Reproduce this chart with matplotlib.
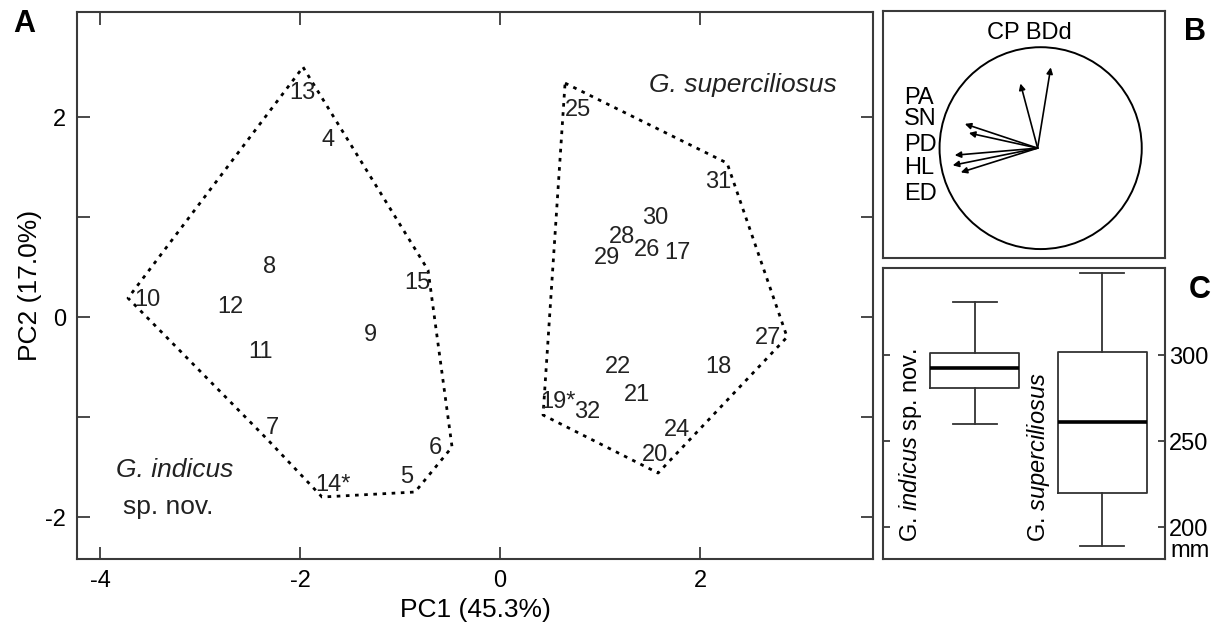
import matplotlib
matplotlib.use('Agg')
import matplotlib.pyplot as plt
from matplotlib.patches import Circle
import matplotlib.transforms as mtransforms

plt.rcParams['font.family'] = ['Liberation Sans', 'DejaVu Sans']
plt.rcParams['axes.unicode_minus'] = False
plt.rcParams['mathtext.fontset'] = 'custom'
plt.rcParams['mathtext.rm'] = 'Liberation Sans'
plt.rcParams['mathtext.it'] = 'Liberation Sans:italic'

# --- panel A: PCA scores (labels drawn at score positions)
ind_ids = ['13', '4', '8', '15', '10', '12', '9', '11', '7', '14*', '5', '6']
ind_pc1 = [-1.98, -1.72, -2.30, -0.83, -3.53, -2.70, -1.30, -2.40, -2.28, -1.67, -0.93, -0.65]
ind_pc2 = [2.24, 1.77, 0.50, 0.34, 0.17, 0.10, -0.18, -0.35, -1.11, -1.68, -1.60, -1.31]

sup_ids = ['25', '31', '30', '28', '26', '17', '29', '27', '22', '18', '21', '19*', '32', '24', '20']
sup_pc1 = [0.78, 2.18, 1.55, 1.22, 1.47, 1.77, 1.07, 2.68, 1.18, 2.18, 1.37, 0.58, 0.87, 1.77, 1.55]
sup_pc2 = [2.07, 1.35, 0.99, 0.80, 0.67, 0.64, 0.59, -0.21, -0.50, -0.50, -0.78, -0.85, -0.95, -1.13, -1.38]

# convex hulls
ind_hull_x = [-1.97, -0.72, -0.48, -0.85, -1.78, -2.33, -3.72, -1.97]
ind_hull_y = [2.50, 0.47, -1.30, -1.75, -1.80, -1.22, 0.19, 2.50]
sup_hull_x = [0.65, 2.27, 2.87, 1.58, 0.43, 0.65]
sup_hull_y = [2.34, 1.54, -0.20, -1.56, -0.98, 2.34]

# --- panel B: loadings
var_names = ['BDd', 'CP', 'PA', 'SN', 'PD', 'HL', 'ED']
load_x = [0.10, -0.20, -0.75, -0.71, -0.85, -0.87, -0.79]
load_y = [0.80, 0.64, 0.24, 0.15, -0.07, -0.17, -0.24]

# --- panel C: length boxplots (mm)
box_names = [r'G. $\mathit{indicus}$ sp. nov.', r'G. $\mathit{superciliosus}$']
whis_lo = [259.9, 189.0]
q1 = [280.8, 219.8]
med = [292.4, 261.0]
q3 = [301.2, 301.7]
whis_hi = [330.8, 347.7]

edge = '#3a3a3a'
hull_ls = (0, (1.3, 2.0))

fig = plt.figure(figsize=(12.28, 6.39), dpi=100)

# ===== A =====
ax = fig.add_axes([0.0627, 0.1252, 0.711 - 0.0627, 0.981 - 0.1252])
ax.plot(ind_hull_x, ind_hull_y, color='black', lw=2.0, ls=hull_ls)
ax.plot(sup_hull_x, sup_hull_y, color='black', lw=2.0, ls=hull_ls)
for i, x, y in zip(ind_ids, ind_pc1, ind_pc2):
    ax.text(x, y, i, ha='center', va='center', fontsize=17, color='#222222')
for i, x, y in zip(sup_ids, sup_pc1, sup_pc2):
    ax.text(x, y, i, ha='center', va='center', fontsize=17, color='#222222')
ax.text(2.43, 2.32, 'G. superciliosus', style='italic', ha='center', va='center',
        fontsize=19, color='#222222')
ax.text(-3.25, -1.53, 'G. indicus', style='italic', ha='center', va='center',
        fontsize=19, color='#222222')
ax.text(-3.32, -1.90, 'sp. nov.', ha='center', va='center', fontsize=19, color='#222222')

ax.set_xlim(-4.23, 3.73)
ax.set_ylim(-2.42, 3.05)
ax.set_xticks([-4, -2, 0, 2])
ax.set_yticks([-2, -1, 0, 1, 2])
ax.set_yticklabels(['-2', '', '0', '', '2'])
ax.tick_params(direction='in', top=True, right=True, length=9, width=1.3,
               color=edge, labelsize=17, pad=8)
ax.set_xlabel('PC1 (45.3%)', fontsize=19, labelpad=4)
ax.set_ylabel('PC2 (17.0%)', fontsize=19, labelpad=2)
for s in ax.spines.values():
    s.set_color(edge)
    s.set_linewidth(1.5)

# ===== B =====
axb = fig.add_axes([0.719, 0.596, 0.9487 - 0.719, 0.983 - 0.596])
axb.set_xlim(-1.56, 1.23)
axb.set_ylim(-1.09, 1.36)
axb.add_patch(Circle((0, 0), 1.0, fill=False, lw=1.4, color='black'))
for lx, ly in zip(load_x, load_y):
    axb.annotate('', xy=(lx, ly), xytext=(-0.03, 0),
                 arrowprops=dict(arrowstyle='-|>', mutation_scale=9, lw=1.2,
                                 color='black', shrinkA=0, shrinkB=0))
axb.text(-0.11, 1.14, 'CP BDd', ha='center', va='center', fontsize=17)
left_names = ['PA', 'SN', 'PD', 'HL', 'ED']
left_y = [0.50, 0.29, 0.03, -0.20, -0.45]
for n, y in zip(left_names, left_y):
    axb.text(-1.35, y, n, ha='left', va='center', fontsize=17)
axb.set_xticks([])
axb.set_yticks([])
for s in axb.spines.values():
    s.set_color(edge)
    s.set_linewidth(1.5)

# ===== C =====
axc = fig.add_axes([0.719, 0.1252, 0.9487 - 0.719, 0.5806 - 0.1252])
stats = []
for n, a, b, c, d, e in zip(box_names, whis_lo, q1, med, q3, whis_hi):
    stats.append(dict(label=n, whislo=a, q1=b, med=c, q3=d, whishi=e, fliers=[]))
axc.bxp(stats, positions=[1, 2], widths=0.7, showfliers=False,
        boxprops=dict(color='#333333', lw=1.3),
        whiskerprops=dict(color='#333333', lw=1.3),
        capprops=dict(color='#333333', lw=1.3),
        medianprops=dict(color='black', lw=2.6))
axc.set_xlim(0.277, 2.494)
axc.set_ylim(181.4, 350.6)
axc.set_xticks([])
axc.set_yticks([200, 250, 300])
axc.yaxis.tick_right()
axc.tick_params(axis='y', direction='in', left=True, right=True, length=5,
                width=1.3, color=edge, labelsize=17, pad=3)
trans = mtransforms.blended_transform_factory(axc.transAxes, axc.transData)
axc.text(1.02, 192.5, 'mm', transform=trans, ha='left', va='top', fontsize=17)
axc.text(0.096, 191.3, box_names[0], transform=trans, rotation=90,
         ha='center', va='bottom', fontsize=17)
axc.text(0.55, 191.3, box_names[1], transform=trans, rotation=90,
         ha='center', va='bottom', fontsize=17)
for s in axc.spines.values():
    s.set_color(edge)
    s.set_linewidth(1.5)

fig.text(0.020, 0.962, 'A', fontsize=22, fontweight='bold', ha='center', va='center')
fig.text(0.973, 0.950, 'B', fontsize=22, fontweight='bold', ha='center', va='center')
fig.text(0.977, 0.546, 'C', fontsize=22, fontweight='bold', ha='center', va='center')

fig.savefig('out.png', dpi=100)
